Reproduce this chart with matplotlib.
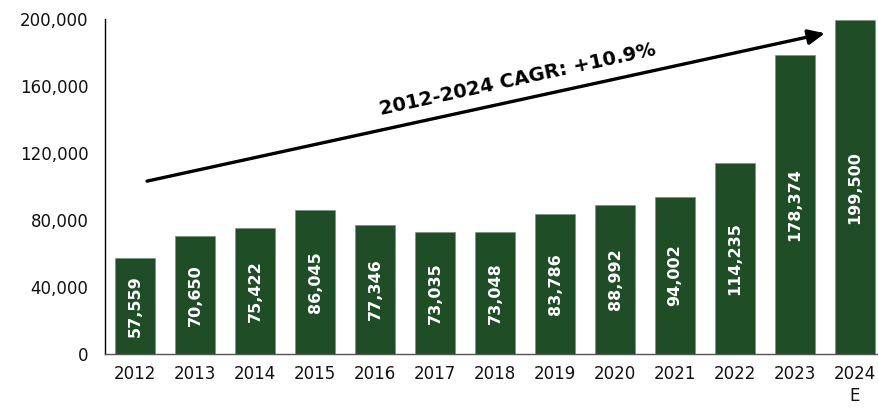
import matplotlib
matplotlib.use('Agg')
import matplotlib.pyplot as plt
from matplotlib.ticker import FuncFormatter

years = ["2012", "2013", "2014", "2015", "2016", "2017", "2018",
         "2019", "2020", "2021", "2022", "2023", "2024\nE"]
values = [57559, 70650, 75422, 86045, 77346, 73035, 73048,
          83786, 88992, 94002, 114235, 178374, 199500]
cagr_label = "2012-2024 CAGR: +10.9%"

plt.rcParams['font.family'] = ['DejaVu Sans']

fig = plt.figure(figsize=(8.79, 4.08), dpi=100)
ax = fig.add_axes([0.1195, 0.132, 0.8805, 0.821])

x = list(range(len(values)))
bars = ax.bar(x, values, width=0.67, color="#1e4d26", edgecolor="#6f8f73", linewidth=0.4)

for xi, v in zip(x, values):
    ax.text(xi, v / 2, f"{v:,}", rotation=90, ha="center", va="center",
            color="white", fontsize=11.5, fontweight="bold")

ax.set_xlim(-0.5, 12.4)
ax.set_ylim(0, 200000)
ax.set_yticks(range(0, 200001, 40000))
ax.yaxis.set_major_formatter(FuncFormatter(lambda v, p: f"{int(v):,}"))
ax.set_xticks(x)
ax.set_xticklabels(years, linespacing=1.3)
ax.tick_params(axis="both", length=0, labelsize=12, colors="#111111")
ax.tick_params(axis="y", pad=12)
ax.tick_params(axis="x", pad=8)

for s in ["top", "right"]:
    ax.spines[s].set_visible(False)
ax.spines["left"].set_color("black")
ax.spines["left"].set_linewidth(1.0)
ax.spines["bottom"].set_color("#555555")
ax.spines["bottom"].set_linewidth(1.0)

# CAGR arrow
ax.annotate("", xy=(11.5, 191600), xytext=(0.2, 103300),
            arrowprops=dict(arrowstyle="-|>,head_length=1.0,head_width=0.45",
                            color="black", lw=2.4, shrinkA=0, shrinkB=0))
ax.text(6.38, 164000, cagr_label, rotation=12.3, ha="center", va="center",
        fontsize=14, fontweight="bold", color="black", rotation_mode="anchor")

fig.savefig("out.png", dpi=100)
